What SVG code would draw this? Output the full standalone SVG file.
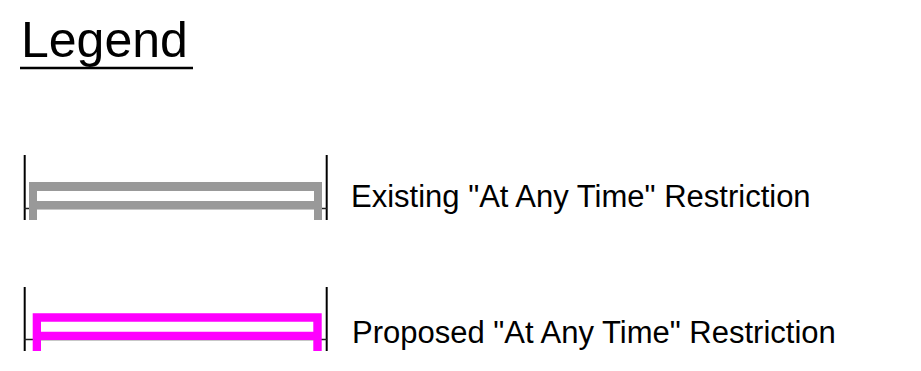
<svg xmlns="http://www.w3.org/2000/svg" width="921" height="371" viewBox="0 0 921 371">
<style>
.t{font-family:"Liberation Sans",Arial,sans-serif;fill:#000}
.tick{stroke:#000;stroke-width:2;fill:none}
.base{stroke:#222;stroke-width:1.5;fill:none}
</style>
<rect width="921" height="371" fill="#fff"/>
<g id="title">
<text class="t" x="21" y="56.5" font-size="50">Legend</text>
<line x1="20" y1="68" x2="193" y2="68" stroke="#000" stroke-width="2.5"/>
</g>
<g id="existing">
<line class="tick" x1="24.7" y1="155" x2="24.7" y2="220"/>
<line class="tick" x1="326.7" y1="155" x2="326.7" y2="220"/>
<line class="base" x1="24" y1="208.5" x2="327" y2="208.5"/>
<path d="M29 182H322V220H314V209H37V220H29Z M37 191V201H314V191Z" fill="#999" fill-rule="evenodd"/>
<text class="t" x="351" y="206.5" font-size="31">Existing "At Any Time" Restriction</text>
</g>
<g id="proposed">
<line class="tick" x1="24.7" y1="287" x2="24.7" y2="351"/>
<line class="tick" x1="326.7" y1="287" x2="326.7" y2="351"/>
<line class="base" x1="24" y1="339.5" x2="327" y2="339.5" stroke="#400040"/>
<path d="M32.7 313.3H321.7V351H313.3V340H41V351H32.7Z M41 321.7V331.7H313.3V321.7Z" fill="#f0f" fill-rule="evenodd"/>
<text class="t" x="352" y="342.5" font-size="31">Proposed "At Any Time" Restriction</text>
</g>
</svg>
